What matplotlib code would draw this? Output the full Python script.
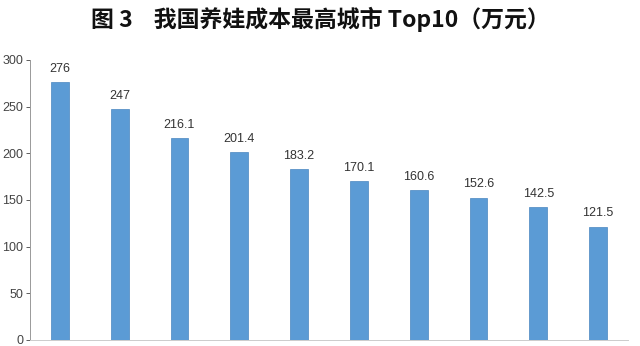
import matplotlib.pyplot as plt
import numpy as np

plt.rcParams['font.family'] = ['Noto Sans CJK SC', 'DejaVu Sans']

values = [276, 247, 216.1, 201.4, 183.2, 170.1, 160.6, 152.6, 142.5, 121.5]
labels = ['276', '247', '216.1', '201.4', '183.2', '170.1', '160.6', '152.6', '142.5', '121.5']
yticks = [0, 50, 100, 150, 200, 250, 300]

fig = plt.figure(figsize=(6.4, 3.46), dpi=100)
ax = fig.add_axes([30 / 640, 6 / 346, 598 / 640, 280 / 346])

x = np.arange(len(values))
bars = ax.bar(x, values, width=0.3, color='#5B9BD5', edgecolor='#4A86C0', linewidth=0.5)
for xi, v, lab in zip(x, values, labels):
    ax.text(xi, v + 8, lab, ha='center', va='bottom', fontsize=9, color='#333333',
            family=['Liberation Sans Narrow', 'Liberation Sans', 'DejaVu Sans'])

ax.set_xlim(-0.5, len(values) - 0.5)
ax.set_ylim(0, 300)
ax.set_yticks(yticks)
ax.set_xticks([])
ax.tick_params(axis='y', labelsize=9, colors='#444444', length=3, width=0.6, pad=2)
for t in ax.get_yticklabels():
    t.set_family(['Liberation Sans Narrow', 'Liberation Sans', 'DejaVu Sans'])
for s in ['top', 'right']:
    ax.spines[s].set_visible(False)
ax.spines['left'].set_color('#999999')
ax.spines['bottom'].set_color('#cccccc')
ax.spines['left'].set_linewidth(0.7)
ax.spines['bottom'].set_linewidth(0.7)

fig.text(0.5, 0.945, '图 3    我国养娃成本最高城市 Top10（万元）', ha='center', va='center',
         fontsize=16.5, fontweight='bold', color='#111111')

fig.savefig('out.png', dpi=100)
